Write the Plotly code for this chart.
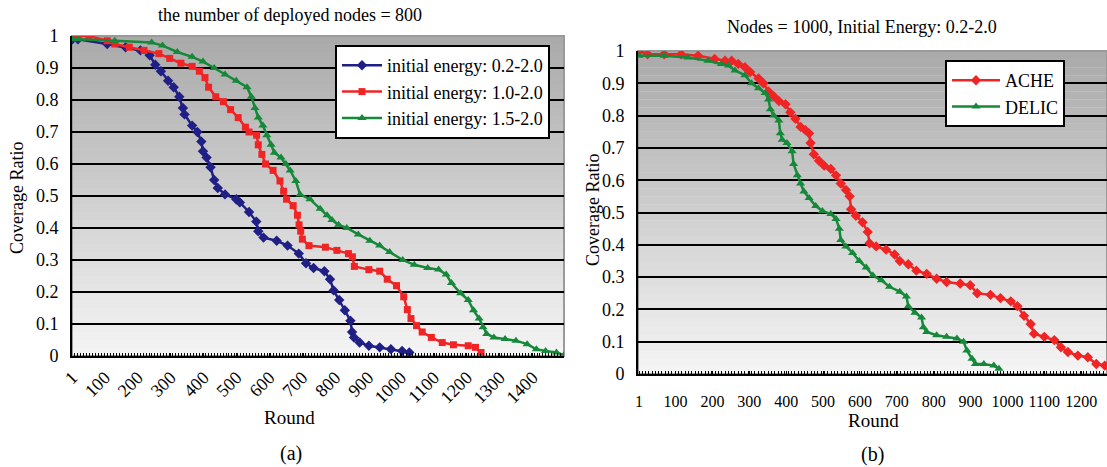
import plotly.graph_objects as go

# ---------------- data (a): 800 nodes ----------------
a_blue_r = [1, 18, 107, 163, 208, 236, 253, 270, 292, 309, 326, 337, 342, 365, 381, 393, 398, 409, 421, 432,
            443, 465, 499, 510, 538, 560, 566, 582, 622, 655, 689, 711, 734, 767, 784, 795, 812, 829, 846, 851,
            857, 874, 902, 935, 969, 1003, 1025]
a_blue_v = [0.99, 0.99, 0.975, 0.965, 0.955, 0.94, 0.91, 0.89, 0.86, 0.84, 0.81, 0.775, 0.755, 0.72, 0.70, 0.67, 0.64, 0.62, 0.59, 0.55,
            0.525, 0.505, 0.49, 0.48, 0.45, 0.42, 0.39, 0.37, 0.36, 0.345, 0.32, 0.29, 0.275, 0.265, 0.24, 0.205, 0.175, 0.143, 0.11, 0.075,
            0.058, 0.042, 0.032, 0.027, 0.021, 0.016, 0.011]

a_red_r = [1, 18, 51, 107, 130, 174, 219, 264, 297, 331, 365, 387, 404, 415, 437, 460, 482, 505, 527, 538,
           561, 566, 577, 588, 611, 632, 643, 652, 672, 685, 690, 695, 700, 720, 770, 805, 840, 852, 858, 902,
           935, 958, 986, 1008, 1019, 1030, 1047, 1064, 1092, 1125, 1159, 1204, 1226, 1243]
a_red_v = [1.0, 1.0, 1.0, 0.985, 0.975, 0.965, 0.955, 0.945, 0.93, 0.915, 0.905, 0.89, 0.87, 0.84, 0.81, 0.795, 0.77, 0.745, 0.715, 0.70,
           0.69, 0.66, 0.63, 0.60, 0.58, 0.547, 0.515, 0.49, 0.47, 0.44, 0.41, 0.39, 0.365, 0.345, 0.34, 0.33, 0.32, 0.31, 0.28, 0.27,
           0.265, 0.24, 0.22, 0.185, 0.145, 0.117, 0.095, 0.075, 0.058, 0.042, 0.035, 0.032, 0.027, 0.011]

a_green_r = [1, 18, 130, 242, 275, 320, 365, 398, 432, 465, 499, 532, 545, 556, 566, 580, 592, 605, 615, 635,
             650, 663, 680, 693, 723, 754, 775, 790, 810, 835, 870, 905, 935, 965, 1005, 1040, 1081, 1114, 1137, 1153,
             1181, 1204, 1220, 1237, 1249, 1260, 1282, 1316, 1349, 1383, 1411, 1439, 1472, 1495]
a_green_v = [0.99, 0.99, 0.985, 0.98, 0.97, 0.95, 0.935, 0.92, 0.90, 0.88, 0.86, 0.84, 0.81, 0.775, 0.745, 0.72, 0.69, 0.66, 0.635, 0.62,
             0.60, 0.58, 0.547, 0.505, 0.49, 0.46, 0.44, 0.425, 0.41, 0.40, 0.38, 0.36, 0.345, 0.325, 0.30, 0.285, 0.275, 0.27, 0.255, 0.228,
             0.196, 0.175, 0.143, 0.117, 0.09, 0.069, 0.058, 0.053, 0.048, 0.037, 0.021, 0.016, 0.011, 0.003]

# ---------------- data (b): 1000 nodes ----------------
b_ache_r = [1, 24, 69, 115, 161, 206, 234, 252, 270, 288, 302, 325, 338, 352, 366, 380, 398, 411, 425, 439,
            452, 462, 466, 475, 489, 503, 521, 535, 548, 562, 572, 576, 589, 607, 621, 626, 644, 671, 694, 708,
            731, 753, 781, 808, 835, 872, 899, 918, 954, 981, 1009, 1027, 1045, 1063, 1072, 1100, 1127, 1145, 1164, 1191,
            1218, 1241, 1264]
b_ache_v = [1.0, 0.99, 0.99, 0.99, 0.985, 0.975, 0.97, 0.97, 0.96, 0.95, 0.935, 0.915, 0.90, 0.875, 0.86, 0.845, 0.835, 0.81, 0.79, 0.765,
            0.755, 0.745, 0.715, 0.68, 0.66, 0.645, 0.635, 0.615, 0.59, 0.57, 0.55, 0.51, 0.49, 0.47, 0.44, 0.405, 0.395, 0.385, 0.37, 0.35,
            0.34, 0.32, 0.31, 0.295, 0.285, 0.28, 0.275, 0.25, 0.245, 0.235, 0.225, 0.21, 0.18, 0.155, 0.125, 0.115, 0.105, 0.083, 0.068, 0.057,
            0.052, 0.031, 0.026]

b_delic_r = [1, 69, 133, 188, 224, 243, 261, 288, 306, 325, 343, 352, 357, 366, 380, 384, 389, 402, 416, 420,
             430, 439, 448, 462, 480, 498, 521, 535, 544, 548, 562, 580, 598, 617, 635, 658, 680, 708, 726, 731,
             749, 767, 772, 781, 808, 835, 863, 881, 890, 904, 913, 936, 963, 977]
b_delic_v = [0.985, 0.985, 0.98, 0.97, 0.96, 0.955, 0.94, 0.925, 0.90, 0.885, 0.87, 0.85, 0.82, 0.80, 0.785, 0.745, 0.725, 0.715, 0.69, 0.65,
             0.615, 0.59, 0.565, 0.545, 0.52, 0.505, 0.495, 0.48, 0.45, 0.415, 0.395, 0.375, 0.35, 0.33, 0.305, 0.29, 0.27, 0.255, 0.24, 0.21,
             0.19, 0.175, 0.145, 0.13, 0.12, 0.115, 0.11, 0.10, 0.073, 0.047, 0.031, 0.031, 0.026, 0.016]

a_xticks = [1, 100, 200, 300, 400, 500, 600, 700, 800, 900, 1000, 1100, 1200, 1300, 1400]
b_xticks = [1, 100, 200, 300, 400, 500, 600, 700, 800, 900, 1000, 1100, 1200]
y_ticks = [0, 0.1, 0.2, 0.3, 0.4, 0.5, 0.6, 0.7, 0.8, 0.9, 1]
y_ticktext = ["0", "0.1", "0.2", "0.3", "0.4", "0.5", "0.6", "0.7", "0.8", "0.9", "1"]

a_names = ["initial energy: 0.2-2.0", "initial energy: 1.0-2.0", "initial energy: 1.5-2.0"]
b_names = ["ACHE", "DELIC"]

FONT = "Liberation Serif, Times New Roman, serif"
W, H = 1107, 467
BLUE, RED, GREEN = "#1f1f86", "#f02424", "#16883a"

fig = go.Figure()

def add(x, y, name, color, symbol, size, xa, ya, leg):
    fig.add_trace(go.Scatter(x=x, y=y, name=name, mode="lines+markers",
                             line=dict(color=color, width=2.5),
                             marker=dict(color=color, symbol=symbol, size=size),
                             xaxis=xa, yaxis=ya, legend=leg))

add(a_blue_r, a_blue_v, a_names[0], BLUE, "diamond", 8, "x", "y", "legend")
add(a_red_r, a_red_v, a_names[1], RED, "square", 7, "x", "y", "legend")
add(a_green_r, a_green_v, a_names[2], GREEN, "triangle-up", 8, "x", "y", "legend")
add(b_ache_r, b_ache_v, b_names[0], RED, "diamond", 8, "x2", "y2", "legend2")
add(b_delic_r, b_delic_v, b_names[1], GREEN, "triangle-up", 8, "x2", "y2", "legend2")

# plot-area domains (paper fractions)
ax_dom = [72 / W, 564 / W]
ay_dom = [1 - 356 / H, 1 - 36 / H]
bx_dom = [638 / W, 1.0]
by_dom = [1 - 374 / H, 1 - 51 / H]

tickfont = dict(family=FONT, size=18, color="black")
common_y = dict(range=[0, 1], tickmode="array", tickvals=y_ticks, ticktext=y_ticktext,
                showgrid=True, gridcolor="black", gridwidth=2, zeroline=False,
                showline=True, linecolor="black", linewidth=2, ticks="", tickfont=tickfont,
                ticklabelstandoff=8, fixedrange=True, automargin=False)
common_x = dict(showgrid=False, zeroline=False, showline=True, linecolor="black", linewidth=2,
                tickmode="array", ticks="inside", ticklen=3, tickcolor="black",
                automargin=False,
                minor=dict(ticks="inside", ticklen=3, tickcolor="black", dtick=9, showgrid=False))

fig.update_layout(
    width=W, height=H, margin=dict(l=0, r=0, t=0, b=0, autoexpand=False),
    paper_bgcolor="white", plot_bgcolor="#e0e0e0",
    font=dict(family=FONT, size=18, color="black"),
    xaxis=dict(domain=ax_dom, anchor="y", range=[0, 1495], tickvals=a_xticks, tickangle=-45,
               ticklabelstandoff=2, tickfont=tickfont, **common_x),
    yaxis=dict(domain=ay_dom, anchor="x", **common_y),
    xaxis2=dict(domain=bx_dom, anchor="y2", range=[-2, 1270], tickvals=b_xticks, tickangle=0,
                ticklabelstandoff=12, tickfont=dict(family=FONT, size=16, color="black"), **common_x),
    yaxis2=dict(domain=by_dom, anchor="x2", **common_y),
    legend=dict(x=335 / W, y=1 - 45 / H, xanchor="left", yanchor="top", bgcolor="white",
                bordercolor="black", borderwidth=2, font=dict(family=FONT, size=18),
                tracegroupgap=0, itemwidth=40),
    legend2=dict(x=945 / W, y=1 - 60 / H, xanchor="left", yanchor="top", bgcolor="white",
                 bordercolor="black", borderwidth=2, font=dict(family=FONT, size=18),
                 tracegroupgap=0, itemwidth=48),
    showlegend=True,
)

# gradient backgrounds of the plot areas (decoration)
def gradient(xref, yref, n=40):
    top = (170, 170, 170)
    bot = (244, 244, 244)
    for i in range(n):
        t = i / (n - 1)
        c = tuple(int(round(top[k] + (bot[k] - top[k]) * t)) for k in range(3))
        fig.add_shape(type="rect", xref=xref + " domain", yref=yref + " domain",
                      x0=0, x1=1, y0=1 - (i + 1) / n, y1=1 - i / n,
                      fillcolor="rgb(%d,%d,%d)" % c, line=dict(width=0), layer="below")
    fig.add_shape(type="rect", xref=xref + " domain", yref=yref + " domain",
                  x0=0, x1=1, y0=0, y1=1, line=dict(color="#9a9a9a", width=2),
                  fillcolor="rgba(0,0,0,0)", layer="below")

gradient("x", "y")
gradient("x2", "y2")

def ann(x, y, text, size=18, angle=0):
    fig.add_annotation(x=x / W, y=1 - y / H, xref="paper", yref="paper", text=text,
                       showarrow=False, font=dict(family=FONT, size=size, color="black"),
                       textangle=angle, xanchor="center", yanchor="middle")

ann(290, 15, "the number of deployed nodes = 800", 18)
ann(862, 27, "Nodes = 1000, Initial Energy: 0.2-2.0", 18)
ann(289, 417, "Round", 19)
ann(873, 420, "Round", 19)
ann(291, 453, "(a)", 20)
ann(872, 454, "(b)", 20)
ann(17, 198, "Coverage Ratio", 18, -90)
ann(593, 210, "Coverage Ratio", 18, -90)

fig.write_html("out.html", post_script="document.body.style.margin='0px';",
               config={"displayModeBar": False})
